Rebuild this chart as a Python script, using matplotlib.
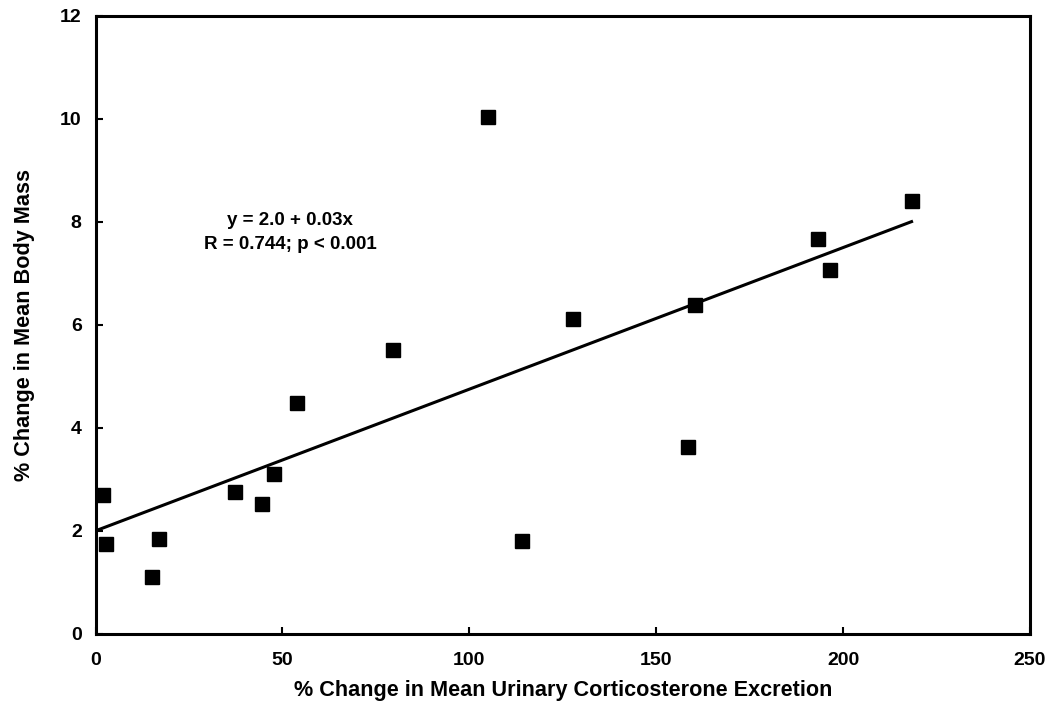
import numpy as np
import matplotlib.pyplot as plt

plt.rcParams['font.family'] = ['Liberation Sans', 'DejaVu Sans']
plt.rcParams['font.weight'] = 'bold'

# % change in urinary corticosterone vs % change in body mass
cort = [1.9, 2.8, 15.1, 17.0, 37.3, 44.5, 47.7, 54.0, 79.7, 105.0,
        114.2, 127.8, 158.5, 160.5, 193.4, 196.4, 218.3]
mass = [2.70, 1.75, 1.11, 1.84, 2.76, 2.52, 3.11, 4.49, 5.51, 10.03,
        1.81, 6.12, 3.63, 6.39, 7.67, 7.07, 8.41]

# regression line from the paper
b0 = 2.0
b1 = 0.0275
line_x = np.array([1.0, 218.3])

fig = plt.figure(figsize=(10.5, 7.17), dpi=100)
ax = fig.add_axes([0.091, 0.116, 0.890, 0.862])

ax.plot(line_x, b0 + b1 * line_x, color='black', lw=2.2, zorder=2)
ax.plot(cort, mass, 's', color='black', markersize=10, zorder=3)

ax.text(52, 8.02, 'y = 2.0 + 0.03x', ha='center', va='center', fontsize=13.5, fontweight='bold')
ax.text(52, 7.55, 'R = 0.744; p < 0.001', ha='center', va='center', fontsize=13.5, fontweight='bold')

ax.set_xlim(0, 250)
ax.set_ylim(0, 12)
ax.set_xticks([0, 50, 100, 150, 200, 250])
ax.set_yticks([0, 2, 4, 6, 8, 10, 12])

for s in ax.spines.values():
    s.set_linewidth(2.2)

ax.tick_params(axis='both', direction='in', length=5, width=1.5, labelsize=14)
ax.tick_params(axis='x', pad=13)
ax.tick_params(axis='y', pad=10)
for lab in ax.get_xticklabels() + ax.get_yticklabels():
    lab.set_fontweight('bold')

ax.set_xlabel('% Change in Mean Urinary Corticosterone Excretion', fontsize=15.6,
              fontweight='bold', labelpad=8)
ax.set_ylabel('% Change in Mean Body Mass', fontsize=15.6, fontweight='bold', labelpad=18)

fig.savefig('out.png', dpi=100)
